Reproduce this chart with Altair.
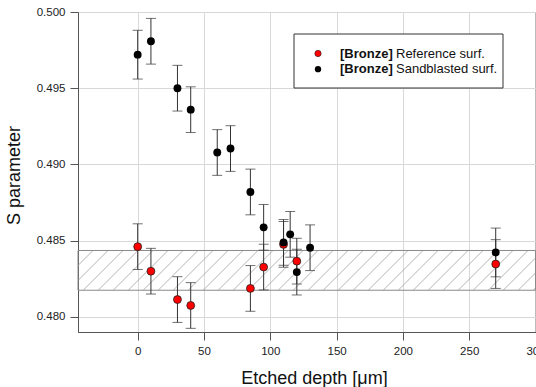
import altair as alt
import pandas as pd
import numpy as np

# ---- data ----
ref_x = [0, 10, 30, 40, 85, 95, 110, 120, 270]
ref_y = [0.48460, 0.48299, 0.48113, 0.48074, 0.48186, 0.48326, 0.48475, 0.48365, 0.48346]
ref_err = [0.0015, 0.0015, 0.0015, 0.0015, 0.0015, 0.0015, 0.0015, 0.0015, 0.0016]

sand_x = [0, 10, 30, 40, 60, 70, 85, 95, 110, 115, 120, 130, 270]
sand_y = [0.49720, 0.49808, 0.49500, 0.49359, 0.49078, 0.49104, 0.48819, 0.48587,
          0.48488, 0.48541, 0.48293, 0.48453, 0.48422]
sand_err = [0.0016, 0.0015, 0.0015, 0.0015, 0.0015, 0.0015, 0.0015, 0.0015,
            0.0015, 0.0015, 0.0015, 0.0015, 0.0016]

band_lo = 0.48174
band_hi = 0.48435

x_ticks = [0, 50, 100, 150, 200, 250, 300]
y_ticks = [0.480, 0.485, 0.490, 0.495, 0.500]
X_DOMAIN = [-45, 300]
Y_DOMAIN = [0.479, 0.500]

legend_bold = ["[Bronze]", "[Bronze]"]
legend_text = ["Reference surf.", "Sandblasted surf."]
legend_colors = ["#ff0000", "#000000"]

# ---- layout ----
W, H = 457.5, 320
FONT = "Liberation Sans"

ref = pd.DataFrame({"x": ref_x, "y": ref_y, "err": ref_err})
sand = pd.DataFrame({"x": sand_x, "y": sand_y, "err": sand_err})
for d in (ref, sand):
    d["lo"] = d["y"] - d["err"]
    d["hi"] = d["y"] + d["err"]
bars = pd.concat([ref, sand], ignore_index=True)

xs = alt.Scale(domain=X_DOMAIN, nice=False, zero=False)
ys = alt.Scale(domain=Y_DOMAIN, nice=False, zero=False)

x_axis = alt.Axis(values=x_ticks, title="Etched depth [μm]", format="d",
                  labelFlush=False, labelBound=False, labelOverlap=False,
                  titleFontSize=18, titleFontWeight="normal", titleX=236, titleY=51,
                  titleAlign="center", titleBaseline="alphabetic", titleColor="#111111")
y_axis = alt.Axis(values=y_ticks, title="S parameter", format=".3f",
                  labelFlush=False, labelBound=False, labelOverlap=False,
                  titleFontSize=18, titleFontWeight="normal", titleAngle=270,
                  titleX=-59, titleY=163, titleAlign="center", titleBaseline="alphabetic",
                  titleColor="#111111")


def X(field):
    return alt.X(field, scale=xs, axis=x_axis)


def Y(field):
    return alt.Y(field, scale=ys, axis=y_axis)


# hatch lines (45 deg in pixel space) derived from band limits
px_per_x = W / (X_DOMAIN[1] - X_DOMAIN[0])
px_per_y = H / (Y_DOMAIN[1] - Y_DOMAIN[0])
band_px = (band_hi - band_lo) * px_per_y
dx = band_px / px_per_x
step = 15 / px_per_x
starts = np.arange(X_DOMAIN[0] - dx, X_DOMAIN[1] + step, step)
hatch = pd.DataFrame({"x0": starts, "x1": starts + dx, "y0": band_lo, "y1": band_hi})

band_df = pd.DataFrame({"lo": [band_lo], "hi": [band_hi]})

hatch_layer = alt.Chart(hatch).mark_rule(clip=True, color="#a0a0a0", strokeWidth=0.8).encode(
    x=X("x0:Q"), x2="x1:Q", y=Y("y0:Q"), y2="y1:Q")

band_layer = alt.Chart(band_df).mark_rect(fillOpacity=0, stroke="#8a8a8a", strokeWidth=1).encode(
    x=alt.value(0), x2=alt.value(W), y=Y("lo:Q"), y2="hi:Q")

err_rule = alt.Chart(bars).mark_rule(color="#333333", strokeWidth=1).encode(
    x=X("x:Q"), y=Y("lo:Q"), y2="hi:Q")
cap_lo = alt.Chart(bars).mark_tick(orient="horizontal", size=10, thickness=1, color="#333333").encode(
    x=X("x:Q"), y=Y("lo:Q"))
cap_hi = alt.Chart(bars).mark_tick(orient="horizontal", size=10, thickness=1, color="#333333").encode(
    x=X("x:Q"), y=Y("hi:Q"))

ref_pts = alt.Chart(ref).mark_circle(size=62, opacity=1, color="#ff0000",
                                     stroke="#222222", strokeWidth=0.8).encode(
    x=X("x:Q"), y=Y("y:Q"))
sand_pts = alt.Chart(sand).mark_circle(size=62, opacity=1, color="#000000").encode(
    x=X("x:Q"), y=Y("y:Q"))

# ---- legend (custom, to allow the bold prefix) ----
LX0, LY0 = 294 - 78, 34 - 12
one = pd.DataFrame({"k": [0]})
leg_layers = [alt.Chart(one).mark_rect(fill="white", stroke="#333333", strokeWidth=1).encode(
    x=alt.value(LX0), x2=alt.value(LX0 + 209), y=alt.value(LY0), y2=alt.value(LY0 + 54))]
for i in range(2):
    yy = LY0 + 19.5 + i * 15.7
    if i == 0:
        dot = alt.Chart(one).mark_circle(size=40, opacity=1, color=legend_colors[i],
                                         stroke="#222222", strokeWidth=0.6)
    else:
        dot = alt.Chart(one).mark_circle(size=40, opacity=1, color=legend_colors[i])
    leg_layers.append(dot.encode(x=alt.value(LX0 + 24), y=alt.value(yy)))
    leg_layers.append(alt.Chart(one).mark_text(align="left", baseline="middle", font=FONT,
                                               fontSize=13, fontWeight="bold", color="#111111").encode(
        x=alt.value(LX0 + 46), y=alt.value(yy), text=alt.value(legend_bold[i])))
    leg_layers.append(alt.Chart(one).mark_text(align="left", baseline="middle", font=FONT,
                                               fontSize=13, color="#111111").encode(
        x=alt.value(LX0 + 102), y=alt.value(yy), text=alt.value(legend_text[i])))

chart = alt.layer(hatch_layer, band_layer, err_rule, cap_lo, cap_hi,
                  ref_pts, sand_pts, *leg_layers).properties(
    width=W, height=H,
    padding={"left": 78, "top": 12, "right": 0, "bottom": 55},
    autosize=alt.AutoSizeParams(type="none"),
    background="white",
).configure_view(stroke="#777777", strokeWidth=1).configure_axis(
    labelFont=FONT, titleFont=FONT, labelFontSize=11.5, labelColor="#222222",
    domainColor="#555555", tickColor="#555555", tickSize=8, labelPadding=5,
    gridColor="#d8d8d8", gridWidth=1, grid=True,
)

chart.save("out.html", embed_options={"renderer": "svg", "actions": False})
